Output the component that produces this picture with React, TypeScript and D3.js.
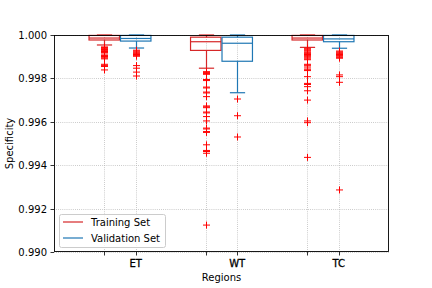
import React, { useEffect, useRef } from "react";
import * as d3 from "d3";

// categories
const regions = ["ET", "WT", "TC"];

// box statistics
const trainLow = [0.99954, 0.99847, 0.99943];
const trainQ1 = [0.99977, 0.99929, 0.99977];
const trainMed = [0.99986, 0.99969, 0.99986];
const trainQ3 = [0.99998, 0.9999, 0.99998];
const trainHigh = [1.0, 1.0, 1.0];

const valLow = [0.9994, 0.99734, 0.99939];
const valQ1 = [0.99972, 0.99879, 0.99969];
const valMed = [0.99984, 0.99962, 0.99982];
const valQ3 = [0.99998, 0.9999, 0.99998];
const valHigh = [1.0, 1.0, 1.0];

// outliers
const trainFliers = [
  [0.99945, 0.99942, 0.99939, 0.99936, 0.99933, 0.9993, 0.99927, 0.99924, 0.9992, 0.99917,
    0.99908, 0.99905, 0.99901, 0.99898, 0.99894, 0.9989, 0.99865, 0.9986, 0.99855, 0.99839],
  [0.99831, 0.99828, 0.99825, 0.99822, 0.99819, 0.99795, 0.9979, 0.9976, 0.99756, 0.99737,
    0.99733, 0.99716, 0.99673, 0.99669, 0.99665, 0.99645, 0.99641, 0.99624, 0.99604, 0.99571,
    0.99567, 0.99555, 0.99551, 0.99494, 0.99468, 0.99463, 0.99455, 0.99124],
  [0.99939, 0.99935, 0.99931, 0.99927, 0.99922, 0.99918, 0.99914, 0.9991, 0.99905, 0.999,
    0.99895, 0.9989, 0.99886, 0.99865, 0.99861, 0.99857, 0.99848, 0.9984, 0.99836, 0.99808,
    0.99777, 0.99772, 0.99762, 0.99743, 0.997, 0.99604, 0.99596, 0.99436],
];
const valFliers = [
  [0.9993, 0.99926, 0.99922, 0.99918, 0.99914, 0.9991, 0.99906, 0.99902, 0.99859, 0.99847,
    0.99829, 0.99811],
  [0.99705, 0.99628, 0.9953],
  [0.99926, 0.99922, 0.99918, 0.99914, 0.9991, 0.99906, 0.99902, 0.99897, 0.99893, 0.99816,
    0.99808, 0.99782, 0.99286],
];

const yTicks = [0.99, 0.992, 0.994, 0.996, 0.998, 1.0];
const seriesNames = ["Training Set", "Validation Set"];

const W = 432;
const H = 288;
const left = 54;
const right = 389;
const top = 35;
const bottom = 252;
const red = "#d62728";
const blue = "#1f77b4";
const font = "DejaVu Sans, sans-serif";

export default function App() {
  const ref = useRef<SVGSVGElement>(null);

  useEffect(() => {
    document.body.style.margin = "0";
    const svg = d3.select(ref.current);
    svg.selectAll("*").remove();

    const x = d3.scaleLinear().domain([-0.65, 2.65]).range([left, right]);
    const y = d3.scaleLinear().domain([0.99, 1.0]).range([bottom, top]);
    const off = 0.155;
    const bw = 0.3;
    const snap = (v: number) => Math.round(v) + 0.5;

    const trainPos = regions.map((_, i) => i - off);
    const valPos = regions.map((_, i) => i + off);
    const allPos = [...trainPos, ...valPos];

    svg.append("rect").attr("width", W).attr("height", H).attr("fill", "#fff");

    // grid
    const grid = svg.append("g").attr("stroke", "#b0b0b0").attr("stroke-width", 0.8)
      .attr("stroke-dasharray", "0.8,1.3");
    yTicks.forEach((t) => {
      grid.append("line").attr("x1", left).attr("x2", right)
        .attr("y1", snap(y(t))).attr("y2", snap(y(t)));
    });
    allPos.forEach((p) => {
      grid.append("line").attr("y1", top).attr("y2", bottom)
        .attr("x1", snap(x(p))).attr("x2", snap(x(p)));
    });

    const drawSet = (
      pos: number[], lo: number[], q1: number[], med: number[], q3: number[], hi: number[],
      fliers: number[][], color: string
    ) => {
      const g = svg.append("g").attr("stroke", color).attr("stroke-width", 1.2).attr("fill", "none");
      pos.forEach((p, i) => {
        const cx = snap(x(p));
        const x0 = x(p - bw / 2);
        const x1 = x(p + bw / 2);
        const cw = (x1 - x0) / 4;
        g.append("rect").attr("x", x0).attr("width", x1 - x0)
          .attr("y", y(q3[i])).attr("height", y(q1[i]) - y(q3[i]));
        g.append("line").attr("x1", x0).attr("x2", x1).attr("y1", y(med[i])).attr("y2", y(med[i]));
        g.append("line").attr("x1", cx).attr("x2", cx).attr("y1", y(q1[i])).attr("y2", y(lo[i]));
        g.append("line").attr("x1", cx).attr("x2", cx).attr("y1", y(q3[i])).attr("y2", y(hi[i]));
        g.append("line").attr("x1", cx - cw).attr("x2", cx + cw).attr("y1", y(lo[i])).attr("y2", y(lo[i]));
        g.append("line").attr("x1", cx - cw).attr("x2", cx + cw).attr("y1", y(hi[i])).attr("y2", y(hi[i]));
        const f = svg.append("g").attr("stroke", "#ff0000").attr("stroke-width", 1);
        fliers[i].forEach((v) => {
          const fy = y(v);
          f.append("line").attr("x1", cx - 3.5).attr("x2", cx + 3.5).attr("y1", fy).attr("y2", fy);
          f.append("line").attr("x1", cx).attr("x2", cx).attr("y1", fy - 3.5).attr("y2", fy + 3.5);
        });
      });
    };

    drawSet(trainPos, trainLow, trainQ1, trainMed, trainQ3, trainHigh, trainFliers, red);
    drawSet(valPos, valLow, valQ1, valMed, valQ3, valHigh, valFliers, blue);

    // spines
    svg.append("rect").attr("x", left + 0.5).attr("y", top + 0.5)
      .attr("width", right - left - 1).attr("height", bottom - top - 1)
      .attr("fill", "none").attr("stroke", "#000").attr("stroke-width", 0.9);

    // y ticks
    const yt = svg.append("g");
    yTicks.forEach((t) => {
      const ty = snap(y(t));
      yt.append("line").attr("x1", left - 3.5).attr("x2", left).attr("y1", ty).attr("y2", ty)
        .attr("stroke", "#000").attr("stroke-width", 0.8);
      yt.append("text").attr("x", left - 7).attr("y", ty).attr("dy", "0.35em")
        .attr("text-anchor", "end").attr("font-family", font).attr("font-size", 10)
        .attr("fill", "#000").text(d3.format(".3f")(t));
    });

    // x ticks
    allPos.forEach((p) => {
      const tx = snap(x(p));
      svg.append("line").attr("x1", tx).attr("x2", tx).attr("y1", bottom).attr("y2", bottom + 3.5)
        .attr("stroke", "#000").attr("stroke-width", 0.8);
    });
    valPos.forEach((p, i) => {
      svg.append("text").attr("x", x(p)).attr("y", bottom + 15)
        .attr("text-anchor", "middle").attr("font-family", font).attr("font-size", 10)
        .attr("fill", "#000").attr("stroke", "#000").attr("stroke-width", 0.3)
        .text(regions[i]);
    });

    // axis labels
    svg.append("text").attr("x", (left + right) / 2).attr("y", 281)
      .attr("text-anchor", "middle").attr("font-family", font).attr("font-size", 10)
      .text("Regions");
    svg.append("text").attr("transform", `translate(13, ${(top + bottom) / 2}) rotate(-90)`)
      .attr("text-anchor", "middle").attr("font-family", font).attr("font-size", 10)
      .text("Specificity");

    // legend
    const lg = svg.append("g").attr("transform", "translate(59, 214)");
    lg.append("rect").attr("x", 0.5).attr("y", 0.5).attr("width", 106).attr("height", 33)
      .attr("rx", 2).attr("fill", "#fff").attr("fill-opacity", 0.8)
      .attr("stroke", "#cccccc").attr("stroke-width", 1);
    [red, blue].forEach((c, i) => {
      const ly = 8 + i * 16;
      lg.append("line").attr("x1", 4).attr("x2", 24).attr("y1", ly).attr("y2", ly)
        .attr("stroke", c).attr("stroke-width", 1.5).attr("stroke-opacity", 0.8);
      lg.append("text").attr("x", 32).attr("y", ly).attr("dy", "0.35em")
        .attr("font-family", font).attr("font-size", 10).attr("fill", "#000")
        .text(seriesNames[i]);
    });
  }, []);

  return <svg ref={ref} width={W} height={H} style={{ display: "block" }} />;
}
